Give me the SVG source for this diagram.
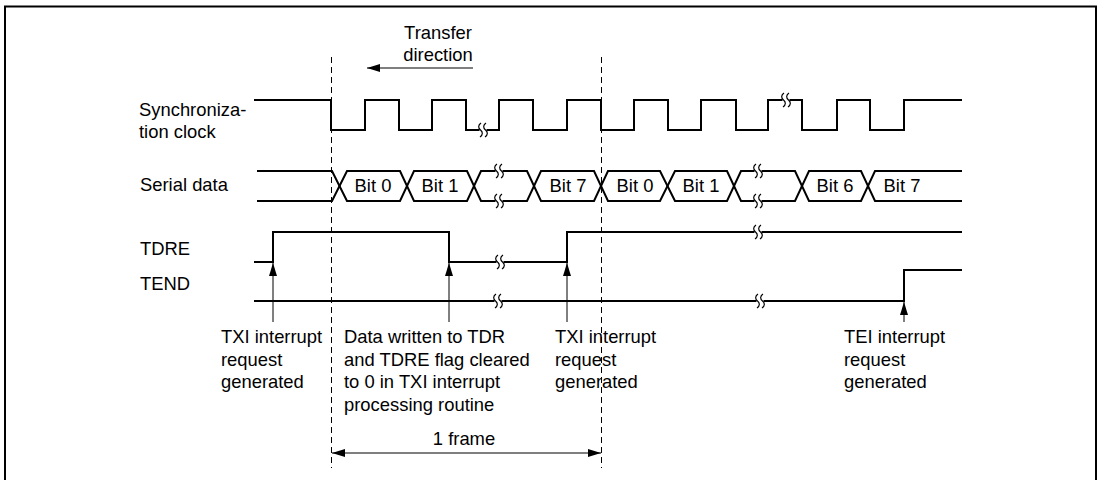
<svg xmlns="http://www.w3.org/2000/svg" xmlns:xlink="http://www.w3.org/1999/xlink" width="1101" height="480" viewBox="0 0 1101 480">
<style>
.t{font-family:"Liberation Sans",Arial,sans-serif;font-size:18.4px;fill:#000}
.m{text-anchor:middle}
.sig{fill:none;stroke:#000;stroke-width:2}
.thin{fill:none;stroke:#000;stroke-width:1}
.dash{fill:none;stroke:#000;stroke-width:1;stroke-dasharray:6 4}
</style>
<defs>
<marker id="ah" markerUnits="userSpaceOnUse" markerWidth="13" markerHeight="8" viewBox="0 0 13 8" refX="13" refY="4" orient="auto">
<path d="M0,0 L13,4 L0,8 z" fill="#000"/>
</marker>
<g id="brk">
<rect x="-3.5" y="-3" width="7" height="6" fill="#fff"/>
<path d="M-2,-7 C-5,-5 -5,-2 -2.5,0 C0,2 0,5 -3,7 M3,-7 C0,-5 0,-2 2.5,0 C5,2 5,5 2,7" fill="none" stroke="#000" stroke-width="1.2"/>
</g>
</defs>
<rect x="5" y="6.5" width="1091" height="490" fill="#fff" stroke="#000" stroke-width="2"/>

<g id="labels">
<text class="t" x="139" y="116">Synchroniza-</text>
<text class="t" x="139" y="138">tion clock</text>
<text class="t" x="140" y="191">Serial data</text>
<text class="t" x="140" y="255">TDRE</text>
<text class="t" x="140" y="290">TEND</text>
</g>

<g id="transfer-direction">
<text class="t m" x="438" y="39">Transfer</text>
<text class="t m" x="438" y="61">direction</text>
<path class="thin" d="M473,68 H367" marker-end="url(#ah)"/>
</g>

<g id="frame-markers">
<path class="dash" d="M331.5,57 V468"/>
<path class="dash" d="M601.5,57 V468"/>
</g>

<g id="clock">
<path class="sig" d="M254,100 H331 V130 H365 V100 H399 V130 H432 V100 H466 V130 H499 V100 H533 V130 H567 V100 H601 V130 H634 V100 H668 V130 H701 V100 H736 V130 H768 V100 H802 V130 H837 V100 H870 V130 H904 V100 H962"/>
<use xlink:href="#brk" x="483" y="130"/>
<use xlink:href="#brk" x="786" y="100"/>
</g>

<g id="serial-data">
<path class="sig" d="M257,171 H332 L347,201 H400 L414,171 H467 L481,201 H527 L541,171 H594 L608,201 H660 L675,171 H727 L741,201 H795 L809,171 H861 L875,201 H962"/>
<path class="sig" d="M257,201 H332 L347,171 H400 L414,201 H467 L481,171 H527 L541,201 H594 L608,171 H660 L675,201 H727 L741,171 H795 L809,201 H861 L875,171 H962"/>
<use xlink:href="#brk" x="499" y="171"/>
<use xlink:href="#brk" x="499" y="201"/>
<use xlink:href="#brk" x="758" y="171"/>
<use xlink:href="#brk" x="758" y="201"/>
<text class="t m" x="373" y="192">Bit 0</text>
<text class="t m" x="440" y="192">Bit 1</text>
<text class="t m" x="568" y="192">Bit 7</text>
<text class="t m" x="635" y="192">Bit 0</text>
<text class="t m" x="701" y="192">Bit 1</text>
<text class="t m" x="835" y="192">Bit 6</text>
<text class="t m" x="902" y="192">Bit 7</text>
</g>

<g id="tdre">
<path class="sig" d="M254,262 H273 V232 H449 V262 H567 V232 H962"/>
<use xlink:href="#brk" x="500" y="262"/>
<use xlink:href="#brk" x="758" y="232"/>
</g>

<g id="tend">
<path class="sig" d="M254,301 H904 V270 H962"/>
<use xlink:href="#brk" x="498" y="301"/>
<use xlink:href="#brk" x="760" y="301"/>
</g>

<g id="connectors">
<path class="thin" d="M273,322 V263" marker-end="url(#ah)"/>
<path class="thin" d="M449,322 V263" marker-end="url(#ah)"/>
<path class="thin" d="M567,322 V263" marker-end="url(#ah)"/>
<path class="thin" d="M904,322 V302" marker-end="url(#ah)"/>
<path class="thin" d="M466,453 H601" marker-end="url(#ah)"/>
<path class="thin" d="M466,453 H332" marker-end="url(#ah)"/>
</g>

<g id="annot-txi1">
<text class="t" x="221" y="343">TXI interrupt</text>
<text class="t" x="221" y="366">request</text>
<text class="t" x="221" y="388">generated</text>
</g>
<g id="annot-tdr">
<text class="t" x="344" y="343">Data written to TDR</text>
<text class="t" x="344" y="366">and TDRE flag cleared</text>
<text class="t" x="344" y="388">to 0 in TXI interrupt</text>
<text class="t" x="344" y="411">processing routine</text>
</g>
<g id="annot-txi2">
<text class="t" x="555" y="343">TXI interrupt</text>
<text class="t" x="555" y="366">request</text>
<text class="t" x="555" y="388">generated</text>
</g>
<g id="annot-tei">
<text class="t" x="844" y="343">TEI interrupt</text>
<text class="t" x="844" y="366">request</text>
<text class="t" x="844" y="388">generated</text>
</g>
<g id="frame-label">
<text class="t m" x="464" y="445">1 frame</text>
</g>
</svg>
